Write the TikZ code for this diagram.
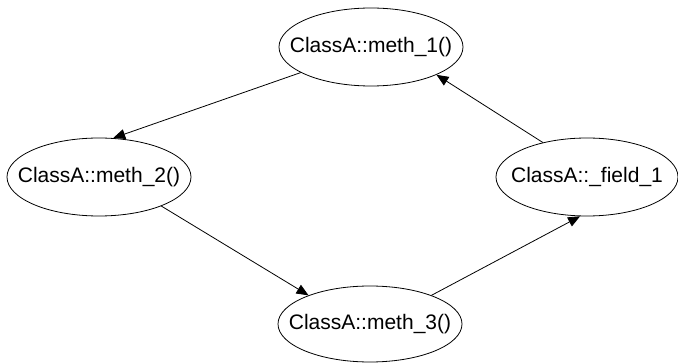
\documentclass[tikz,border=0pt]{standalone}
\usepackage{fontspec}
\setmainfont{Liberation Sans}
\usetikzlibrary{shapes.geometric,arrows.meta}
% label of zero width, so that the ellipse keeps its given size
\newcommand\memberlabel[1]{\makebox[0pt]{#1}}
\begin{document}
\begin{tikzpicture}[x=1pt,y=1pt,
  member/.style={ellipse,draw,line width=0.8pt,inner sep=0pt,
    minimum width=184pt,minimum height=78pt,font=\fontsize{21}{25}\selectfont},
  call/.style={draw,line width=0.8pt,-{Triangle[length=12pt,width=10pt]}}]
\useasboundingbox (0,0) rectangle (678,362);
\node[member] (m1) at (371,315) {\memberlabel{ClassA::meth\_1()}};
\node[member] (m2) at (99,185) {\memberlabel{ClassA::meth\_2()}};
\node[member,minimum width=182pt] (f1) at (587,185) {\memberlabel{ClassA::\_field\_1}};
\node[member,minimum height=76pt] (m3) at (370,38) {\memberlabel{ClassA::meth\_3()}};
\draw[call] (m1.200) -- (m2.70);
\draw[call] (m2.-25) -- (m3.155);
\draw[call] (m3.25) -- (f1.260);
\draw[call] (f1.142) -- (m1.-23);
\end{tikzpicture}
\end{document}
